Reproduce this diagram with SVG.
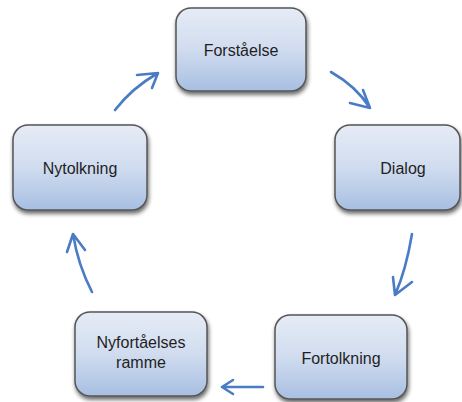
<svg xmlns="http://www.w3.org/2000/svg" width="462" height="402" viewBox="0 0 462 402">
<defs>
<linearGradient id="g" x1="0" y1="0" x2="0" y2="1">
<stop offset="0" stop-color="#e6ecf6"/>
<stop offset="0.5" stop-color="#d0dcef"/>
<stop offset="1" stop-color="#a8bfe2"/>
</linearGradient>
<filter id="sh" x="-20%" y="-20%" width="140%" height="140%">
<feGaussianBlur in="SourceAlpha" stdDeviation="2"/>
<feOffset dx="1" dy="3" result="b"/>
<feComponentTransfer><feFuncA type="linear" slope="0.6"/></feComponentTransfer>
<feMerge><feMergeNode/><feMergeNode in="SourceGraphic"/></feMerge>
</filter>
</defs>
<style>
.box{fill:url(#g);stroke:#555555;stroke-width:1.5;filter:url(#sh)}
.t{font-family:"Liberation Sans",Arial,sans-serif;font-size:16px;fill:#1f1f1f;text-anchor:middle}
.a{fill:none;stroke:#4a7cc6;stroke-width:2.6;stroke-linecap:round;stroke-linejoin:round}
</style>
<rect width="462" height="402" fill="#ffffff"/>
<g id="forstaaelse"><rect class="box" x="176" y="8" width="130" height="83" rx="15"/><text class="t" x="241" y="56">Forståelse</text></g>
<g id="dialog"><rect class="box" x="335" y="125" width="125" height="85" rx="15"/><text class="t" x="403" y="174">Dialog</text></g>
<g id="fortolkning"><rect class="box" x="275" y="315" width="132" height="84" rx="15"/><text class="t" x="341" y="364">Fortolkning</text></g>
<g id="nyfortaaelses"><rect class="box" x="75" y="312" width="132" height="84" rx="15"/><text class="t" x="141" y="348">Nyfortåelses</text><text class="t" x="141" y="368">ramme</text></g>
<g id="nytolkning"><rect class="box" x="13" y="125" width="134" height="85" rx="15"/><text class="t" x="80" y="174">Nytolkning</text></g>
<g id="connectors">
<path class="a" d="M115,110 Q132,88 158,73 M137,75 L158,73 L152,88"/>
<path class="a" d="M331,72 Q356,86 370,108 M363,90 L370,108 L350,103"/>
<path class="a" d="M412,234 Q406,270 395,295 M393,277 L395,295 L412,282"/>
<path class="a" d="M263,387 L222,387 M233,380 L222,387 L233,394"/>
<path class="a" d="M92,292 Q78,265 73,234 M67,252 L73,234 L85,250"/>
</g>
</svg>
